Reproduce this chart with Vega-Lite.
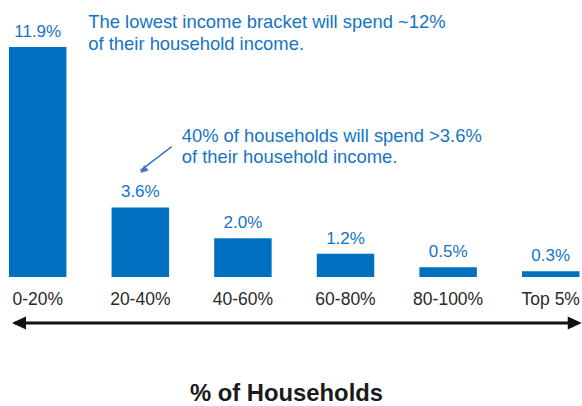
{
  "$schema": "https://vega.github.io/schema/vega-lite/v6.json",
  "width": 582,
  "height": 406,
  "autosize": {"type": "none"},
  "padding": 0,
  "background": "white",
  "config": {"view": {"stroke": null}, "font": "Liberation Sans"},
  "datasets": {
    "brackets": [
      {"bracket": "0-20%", "share": 11.9, "label": "11.9%"},
      {"bracket": "20-40%", "share": 3.6, "label": "3.6%"},
      {"bracket": "40-60%", "share": 2.0, "label": "2.0%"},
      {"bracket": "60-80%", "share": 1.2, "label": "1.2%"},
      {"bracket": "80-100%", "share": 0.5, "label": "0.5%"},
      {"bracket": "Top 5%", "share": 0.3, "label": "0.3%"}
    ]
  },
  "data": {"name": "brackets"},
  "encoding": {
    "x": {
      "field": "bracket",
      "type": "nominal",
      "sort": null,
      "axis": null,
      "scale": {
        "domain": ["0-20%", "20-40%", "40-60%", "60-80%", "80-100%", "Top 5%"],
        "paddingInner": 0.44,
        "paddingOuter": 0.056,
        "align": 0.78
      }
    }
  },
  "resolve": {"scale": {"y": "shared"}},
  "layer": [
    {
      "mark": {"type": "bar", "color": "#0070C0"},
      "encoding": {
        "y": {"field": "share", "type": "quantitative", "axis": null,
              "scale": {"domain": [-6.674, 14.33], "nice": false, "zero": false}},
        "y2": {"datum": 0}
      }
    },
    {
      "mark": {"type": "text", "dy": -10, "baseline": "alphabetic", "fontSize": 17, "color": "#1574C6"},
      "encoding": {
        "y": {"field": "share", "type": "quantitative"},
        "text": {"field": "label"}
      }
    },
    {
      "mark": {"type": "text", "baseline": "alphabetic", "fontSize": 17.5, "color": "#2a2a2a"},
      "encoding": {
        "y": {"datum": -1.45, "type": "quantitative"},
        "text": {"field": "bracket"}
      }
    },
    {
      "data": {"values": [{"part": "axis arrow"}]},
      "mark": {"type": "rule", "strokeWidth": 3, "color": "#111111", "xOffset": -23, "x2Offset": 26},
      "encoding": {
        "x": {"datum": "0-20%", "type": "nominal"},
        "x2": {"datum": "Top 5%"},
        "y": {"datum": -2.38, "type": "quantitative"}
      }
    },
    {
      "data": {"values": [{"part": "left head"}]},
      "mark": {"type": "point", "shape": "M-25.7,0L-11.7,-6.5L-11.7,6.5Z", "size": 4, "filled": true, "opacity": 1, "color": "#111111"},
      "encoding": {
        "x": {"datum": "0-20%", "type": "nominal"},
        "y": {"datum": -2.38, "type": "quantitative"}
      }
    },
    {
      "data": {"values": [{"part": "right head"}]},
      "mark": {"type": "point", "shape": "M31,0L17,-6.5L17,6.5Z", "size": 4, "filled": true, "opacity": 1, "color": "#111111"},
      "encoding": {
        "x": {"datum": "Top 5%", "type": "nominal"},
        "y": {"datum": -2.38, "type": "quantitative"}
      }
    },
    {
      "data": {"values": [{"title": "% of Households"}]},
      "mark": {"type": "text", "baseline": "alphabetic", "fontSize": 23.8, "fontWeight": "bold", "color": "#1a1a1a", "dx": 43.6},
      "encoding": {
        "x": {"datum": "40-60%", "type": "nominal"},
        "y": {"datum": -6.44, "type": "quantitative"},
        "text": {"field": "title"}
      }
    },
    {
      "data": {"values": [{"note": "The lowest income bracket will spend ~12%\nof their household income."}]},
      "mark": {"type": "text", "align": "left", "baseline": "alphabetic", "fontSize": 18.4, "lineHeight": 22, "lineBreak": "\n", "color": "#1574C6", "dx": 50.6},
      "encoding": {
        "x": {"datum": "0-20%", "type": "nominal"},
        "y": {"datum": 12.88, "type": "quantitative"},
        "text": {"field": "note"}
      }
    },
    {
      "data": {"values": [{"note": "40% of households will spend >3.6%\nof their household income."}]},
      "mark": {"type": "text", "align": "left", "baseline": "alphabetic", "fontSize": 18.4, "lineHeight": 21, "lineBreak": "\n", "color": "#1574C6", "dx": 41.4},
      "encoding": {
        "x": {"datum": "20-40%", "type": "nominal"},
        "y": {"datum": 6.984, "type": "quantitative"},
        "text": {"field": "note"}
      }
    },
    {
      "data": {"values": [{"part": "note arrow"}]},
      "mark": {"type": "rule", "strokeWidth": 1.5, "color": "#4472C4", "xOffset": 31.4},
      "encoding": {
        "x": {"datum": "20-40%", "type": "nominal"},
        "x2": {"datum": "20-40%"},
        "y": {"datum": 6.74, "type": "quantitative"},
        "y2": {"datum": 5.5}
      }
    },
    {
      "data": {"values": [{"part": "note arrow head"}]},
      "mark": {"type": "point", "shape": "M0,0L8.35,-2.42L3.85,-7.78Z", "size": 4, "filled": true, "opacity": 1, "color": "#4472C4"},
      "encoding": {
        "x": {"datum": "20-40%", "type": "nominal"},
        "y": {"datum": 5.38, "type": "quantitative"}
      }
    }
  ]
}
